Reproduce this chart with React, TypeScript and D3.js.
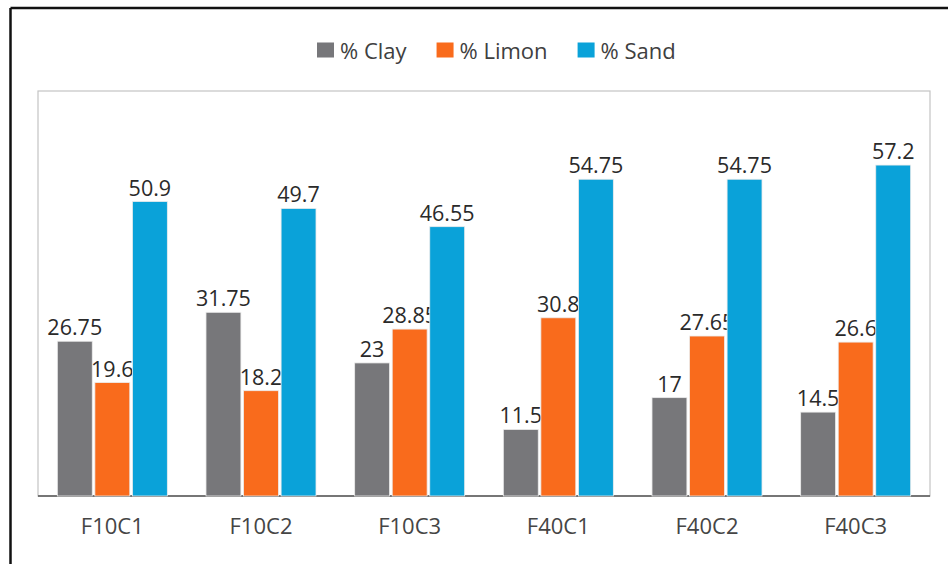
import { useMemo } from "react";
import * as d3 from "d3";

const WIDTH = 948;
const HEIGHT = 564;
const PLOT = { left: 38, right: 930, top: 91, bottom: 496 };
const FONT = "'Open Sans', 'Noto Sans', sans-serif";

const categories = ["F10C1", "F10C2", "F10C3", "F40C1", "F40C2", "F40C3"];
const seriesNames = ["% Clay", "% Limon", "% Sand"];
const clay = [26.75, 31.75, 23, 11.5, 17, 14.5];
const limon = [19.6, 18.2, 28.85, 30.8, 27.65, 26.6];
const sand = [50.9, 49.7, 46.55, 54.75, 54.75, 57.2];
const colors = ["#77777a", "#f96b1c", "#0aa2d9"];
const Y_MAX = 70;

// canvas measure, used only to lay out the legend items
const measure = (text: string, size: number) => {
  const ctx = document.createElement("canvas").getContext("2d");
  if (!ctx) return text.length * size * 0.55;
  ctx.font = `${size}px 'Open Sans'`;
  return ctx.measureText(text).width;
};

export default function App() {
  const series = [clay, limon, sand];

  const x0 = useMemo(
    () =>
      d3
        .scaleBand()
        .domain(categories)
        .range([PLOT.left, PLOT.right])
        .paddingInner(0.26)
        .paddingOuter(0.13),
    []
  );

  const x1 = useMemo(
    () =>
      d3
        .scaleBand()
        .domain(seriesNames)
        .range([0, x0.bandwidth()])
        .paddingInner(0.07),
    [x0]
  );

  const y = useMemo(
    () => d3.scaleLinear().domain([0, Y_MAX]).range([PLOT.bottom, PLOT.top]),
    []
  );

  const legendSize = 22;
  let lx = 317;
  const legendItems = seriesNames.map((name, i) => {
    const item = { name, x: lx, color: colors[i] };
    lx += 23 + measure(name, legendSize) + 30;
    return item;
  });

  return (
    <div style={{ position: "absolute", left: 0, top: 0 }}>
      <svg width={WIDTH} height={HEIGHT} style={{ display: "block", background: "#fff" }}>
        {/* outer frame (only top and left visible) */}
        <line x1={10.5} y1={8} x2={WIDTH} y2={8} stroke="#111" strokeWidth={2.5} />
        <line x1={10.5} y1={8} x2={10.5} y2={HEIGHT} stroke="#111" strokeWidth={2.5} />

        {/* plot area box */}
        <rect
          x={PLOT.left}
          y={PLOT.top}
          width={PLOT.right - PLOT.left}
          height={PLOT.bottom - PLOT.top}
          fill="none"
          stroke="#c4c4c4"
          strokeWidth={1.2}
        />
        <line
          x1={PLOT.left}
          x2={PLOT.right}
          y1={PLOT.bottom}
          y2={PLOT.bottom}
          stroke="#555"
          strokeWidth={1.5}
        />

        {/* legend */}
        {legendItems.map((d) => (
          <g key={d.name} transform={`translate(${d.x}, 50)`}>
            <rect x={0} y={-7.5} width={17} height={15} fill={d.color} />
            <text
              x={23}
              y={0}
              dominantBaseline="central"
              fontFamily={FONT}
              fontSize={legendSize}
              fill="#404040"
            >
              {d.name}
            </text>
          </g>
        ))}

        {/* bars */}
        {categories.map((cat, ci) => (
          <g key={cat} transform={`translate(${x0(cat)}, 0)`}>
            {seriesNames.map((s, si) => {
              const v = series[si][ci];
              const bx = x1(s) ?? 0;
              return (
                <g key={s}>
                  <rect
                    x={bx}
                    y={y(v)}
                    width={x1.bandwidth()}
                    height={y(0) - y(v)}
                    fill={colors[si]}
                    stroke="#ececec"
                    strokeWidth={0.8}
                  />
                  <text
                    x={bx + x1.bandwidth() / 2}
                    y={y(v) - 6}
                    textAnchor="middle"
                    fontFamily={FONT}
                    fontSize={21.5}
                    fill="#2a2a2a"
                  >
                    {v}
                  </text>
                </g>
              );
            })}
            <text
              x={x0.bandwidth() / 2}
              y={534}
              textAnchor="middle"
              fontFamily={FONT}
              fontSize={22}
              fill="#454545"
            >
              {cat}
            </text>
          </g>
        ))}
      </svg>
    </div>
  );
}
